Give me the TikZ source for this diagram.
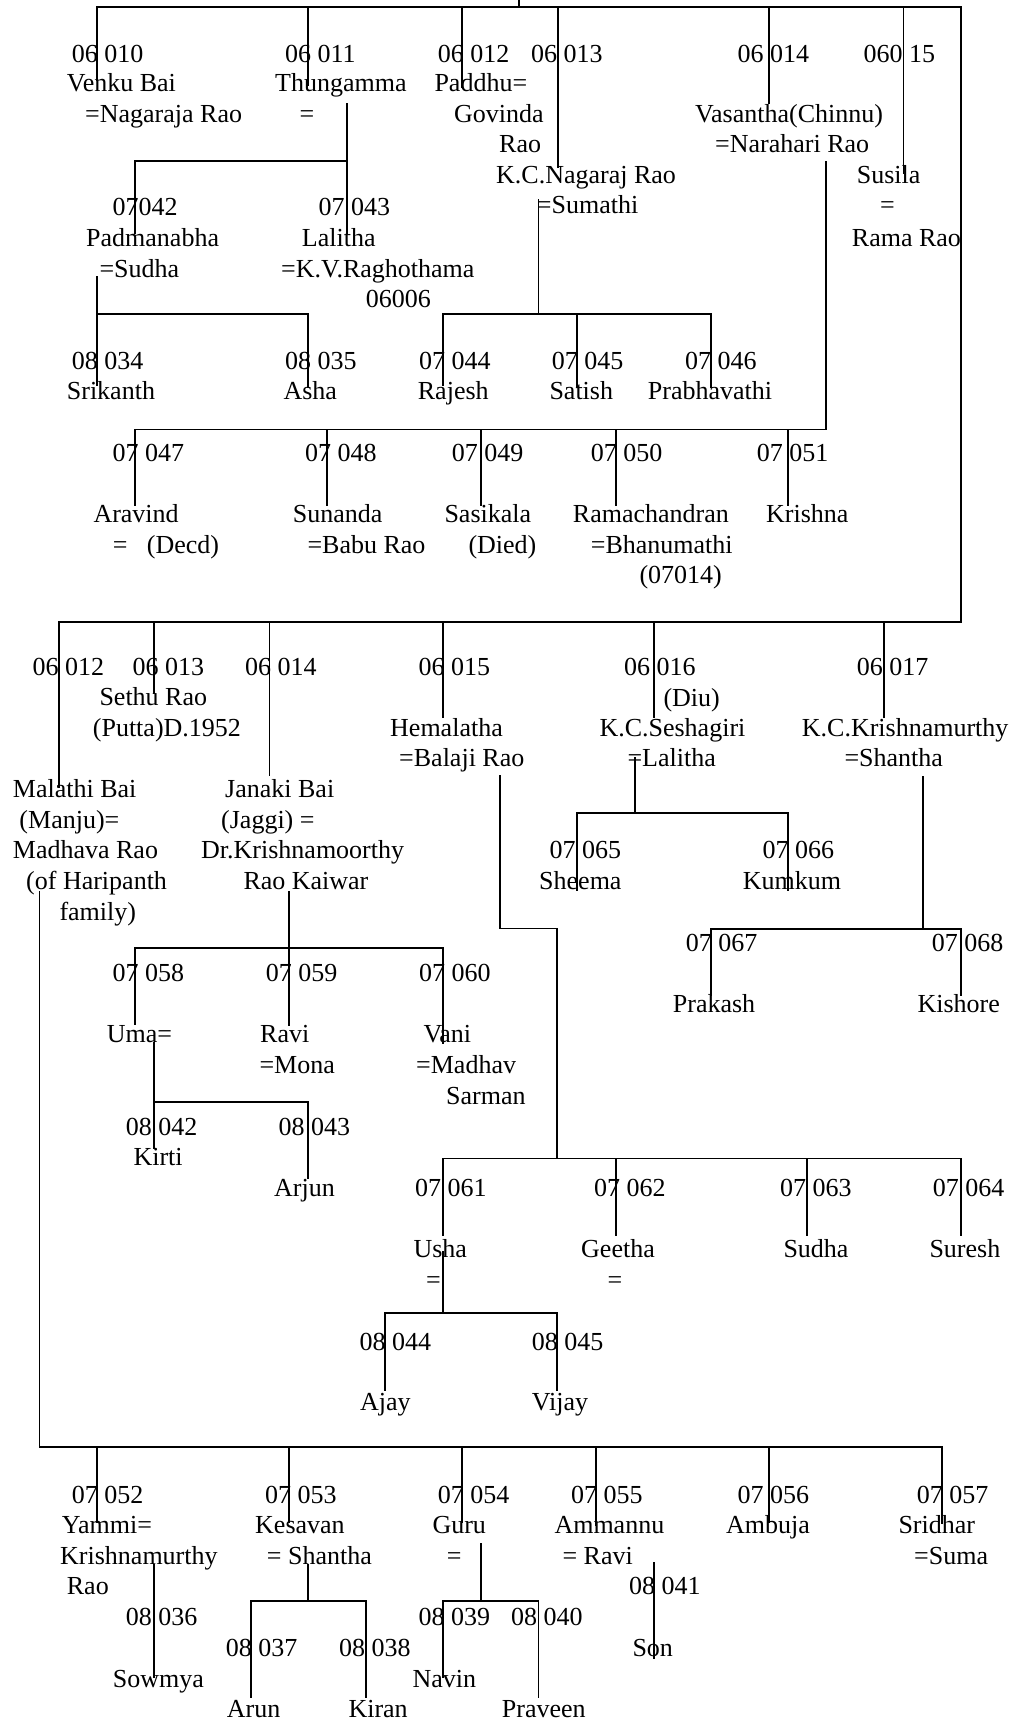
\documentclass[tikz,border=0pt]{standalone}
\usepackage{fontspec}
\setmainfont{Liberation Serif}
\tikzset{lbl/.style={anchor=base west, inner sep=0pt, font=\fontsize{26}{30}\selectfont},
  tline/.style={line width=1.6pt, line cap=rect}}
\newcommand\who[4]{\node[lbl] (#1) at (#2,#3) {#4};}
\newcommand\stem[3]{\draw[tline] (#1,#2) -- (#1,#3);}
\newcommand\rail[3]{\draw[tline] (#1,#3) -- (#2,#3);}

\begin{document}
\begin{tikzpicture}[x=1pt,y=-1pt]
\useasboundingbox (0,0) rectangle (1017,1723);

% top family
\stem{519}{0}{7}
\rail{97}{961}{7}
\stem{97}{7}{80}
\stem{308}{7}{85}
\stem{461.7}{7}{87}
\stem{557.7}{7}{167}
\stem{768.7}{7}{103}
\stem{903.3}{7}{173}
\stem{961}{7}{622}

\who{c06010}{71.7}{63}{06 010}
\who{c06011}{285}{63}{06 011}
\who{c06012}{437.7}{63}{06 012}
\who{c06013}{531}{63}{06 013}
\who{c06014}{737.3}{63}{06 014}
\who{c06015}{863.3}{63}{060 15}
\who{venku}{66.7}{92}{Venku Bai}
\who{thunga}{275}{92}{Thungamma}
\who{paddhu}{434.3}{92}{Paddhu=}
\who{venkuH}{85}{123}{=Nagaraja Rao}
\who{thungaH}{299.3}{123}{=}
\who{paddhuH}{454}{123}{Govinda}
\who{vasantha}{695}{123}{Vasantha(Chinnu)}
\who{paddhuR}{499}{153}{Rao}
\who{vasanthaH}{715}{153}{=Narahari Rao}
\who{nagaraj}{496}{184}{K.C.Nagaraj Rao}
\who{susila}{856.7}{184}{Susila}
\who{nagarajW}{536.7}{214}{=Sumathi}
\who{susilaE}{880}{214}{=}
\who{susilaH}{851.7}{246}{Rama Rao}

% Thungamma
\stem{346.7}{104}{233}
\rail{135}{346.7}{161.3}
\stem{135}{161.3}{233}
\who{c07042}{112.3}{215}{07042}
\who{c07043}{318.3}{215}{07 043}
\who{padma}{86}{246}{Padmanabha}
\who{lalitha}{301.7}{246}{Lalitha}
\who{padmaW}{99.3}{277}{=Sudha}
\who{lalithaH}{281}{277}{=K.V.Raghothama}
\who{lalithaC}{365.7}{307}{06006}

% Padmanabha
\stem{97}{277}{385}
\rail{97}{308}{314}
\stem{308}{314}{387}
\who{c08034}{71.7}{369}{08 034}
\who{c08035}{285}{369}{08 035}
\who{srikanth}{66.7}{399}{Srikanth}
\who{asha}{283.3}{399}{Asha}

% K.C.Nagaraj Rao
\stem{538.3}{200}{314}
\rail{442.7}{711}{314}
\stem{442.7}{314}{385}
\stem{577}{314}{387}
\stem{711}{314}{387}
\who{c07044}{419}{369}{07 044}
\who{c07045}{551.7}{369}{07 045}
\who{c07046}{685}{369}{07 046}
\who{rajesh}{417.7}{399}{Rajesh}
\who{satish}{549.3}{399}{Satish}
\who{prabha}{647.7}{399}{Prabhavathi}

% Vasantha
\stem{826}{162}{429.5}
\rail{135}{826}{429.5}
\stem{135}{429.5}{505}
\stem{326.7}{429.5}{505}
\stem{480.7}{429.5}{505}
\stem{615.7}{429.5}{505}
\stem{787.7}{429.5}{505}
\who{c07047}{112.3}{461}{07 047}
\who{c07048}{305}{461}{07 048}
\who{c07049}{451.7}{461}{07 049}
\who{c07050}{590.7}{461}{07 050}
\who{c07051}{756.7}{461}{07 051}
\who{aravind}{93.3}{522}{Aravind}
\who{sunanda}{292.7}{522}{Sunanda}
\who{sasikala}{444.3}{522}{Sasikala}
\who{rama}{572.7}{522}{Ramachandran}
\who{krishna}{766}{522}{Krishna}
\who{aravindW}{112.7}{553}{=\hspace{19.4pt}(Decd)}
\who{sunandaH}{307.3}{553}{=Babu Rao}
\who{sasikalaD}{468.3}{553}{(Died)}
\who{ramaW}{590.7}{553}{=Bhanumathi}
\who{ramaC}{639.3}{583}{(07014)}

% second family
\rail{58.7}{961}{621.7}
\stem{58.7}{621.7}{787}
\stem{154}{621.7}{693}
\stem{269.3}{621.7}{775}
\stem{442.7}{621.7}{717}
\stem{653.7}{621.7}{717}
\stem{884}{621.7}{717}
\who{c06012b}{32.3}{675}{06 012}
\who{c06013b}{132.3}{675}{06 013}
\who{c06014b}{245}{675}{06 014}
\who{c06015b}{418.3}{675}{06 015}
\who{c06016}{624}{675}{06 016}
\who{c06017}{856.7}{675}{06 017}
\who{sethu}{99.3}{705}{Sethu Rao}
\who{diu}{663.3}{706}{(Diu)}
\who{sethuD}{92.7}{736.5}{(Putta)D.1952}
\who{hema}{390}{736.5}{Hemalatha}
\who{sesha}{599.3}{736.5}{K.C.Seshagiri}
\who{kck}{801.7}{736.5}{K.C.Krishnamurthy}
\who{hemaH}{399}{766.5}{=Balaji Rao}
\who{seshaW}{627.3}{766.5}{=Lalitha}
\who{kckW}{844.3}{766.5}{=Shantha}
\who{malathi}{12.7}{797}{Malathi Bai}
\who{janaki}{225}{797}{Janaki Bai}
\who{malathiN}{19.3}{828}{(Manju)=}
\who{janakiN}{221}{828}{(Jaggi) =}
\who{malathiH}{12.7}{858}{Madhava Rao}
\who{janakiH}{201}{858}{Dr.Krishnamoorthy}
\who{malathiF}{26}{889}{(of Haripanth}
\who{janakiR}{243.3}{889}{Rao Kaiwar}
\who{malathiG}{59.3}{920}{family)}

% K.C.Seshagiri
\stem{635}{758}{813}
\rail{577}{787.7}{813}
\stem{577}{813}{890}
\stem{787.7}{813}{890}
\who{c07065}{549.3}{858}{07 065}
\who{c07066}{762.3}{858}{07 066}
\who{sheema}{539}{889}{Sheema}
\who{kumkum}{742.7}{889}{Kumkum}

% K.C.Krishnamurthy
\stem{922.7}{777}{929}
\rail{711}{961}{929}
\stem{711}{929}{995}
\stem{961}{929}{995}
\who{c07067}{685.7}{951}{07 067}
\who{c07068}{931.7}{951}{07 068}
\who{prakash}{672.7}{1012.7}{Prakash}
\who{kishore}{917.3}{1012.7}{Kishore}

% Janaki Bai
\stem{288.7}{892}{1025}
\rail{135}{442.7}{948}
\stem{135}{948}{1024}
\stem{442.7}{948}{1043}
\who{c07058}{112.3}{981.7}{07 058}
\who{c07059}{265.7}{981.7}{07 059}
\who{c07060}{419}{981.7}{07 060}
\who{uma}{106.7}{1042.7}{Uma=}
\who{ravi}{260}{1042.7}{Ravi}
\who{vani}{423.3}{1042.7}{Vani}
\who{raviW}{259.3}{1073.3}{=Mona}
\who{vaniH}{416}{1073.3}{=Madhav}
\who{vaniS}{446}{1104}{Sarman}

% Uma
\stem{154}{1043}{1148}
\rail{154}{308}{1102}
\stem{308}{1102}{1178}
\who{c08042}{125.7}{1135}{08 042}
\who{c08043}{278.3}{1135}{08 043}
\who{kirti}{133.3}{1165.7}{Kirti}
\who{arjun}{274}{1196}{Arjun}

% Hemalatha
\stem{500}{776}{928.5}
\rail{500}{557}{928.5}
\stem{557}{928.5}{1158.5}
\rail{442.7}{961}{1158.5}
\stem{442.7}{1158.5}{1235}
\stem{615.7}{1158.5}{1235}
\stem{806.7}{1158.5}{1235}
\stem{961}{1158.5}{1235}
\who{c07061}{415}{1196}{07 061}
\who{c07062}{594}{1196}{07 062}
\who{c07063}{780}{1196}{07 063}
\who{c07064}{932.7}{1196}{07 064}
\who{usha}{413.3}{1257.7}{Usha}
\who{geetha}{581}{1257.7}{Geetha}
\who{sudha}{783.3}{1257.7}{Sudha}
\who{suresh}{929.3}{1257.7}{Suresh}
\who{ushaH}{426}{1288}{=}
\who{geethaH}{607.3}{1288}{=}

% Usha
\stem{442.7}{1252}{1313}
\rail{385}{557}{1313}
\stem{385}{1313}{1390}
\stem{557}{1313}{1390}
\who{c08044}{359.3}{1350}{08 044}
\who{c08045}{531.7}{1350}{08 045}
\who{ajay}{360}{1410.7}{Ajay}
\who{vijay}{531.7}{1410.7}{Vijay}

% Malathi Bai
\stem{39.3}{892}{1447}
\rail{39.3}{941.7}{1447}
\stem{97}{1447}{1522}
\stem{288.7}{1447}{1522}
\stem{461.7}{1447}{1522}
\stem{596}{1447}{1525}
\stem{768.7}{1447}{1522}
\stem{941.7}{1447}{1523}
\who{c07052}{71.7}{1503.3}{07 052}
\who{c07053}{265}{1503.3}{07 053}
\who{c07054}{437.7}{1503.3}{07 054}
\who{c07055}{571}{1503.3}{07 055}
\who{c07056}{737.3}{1503.3}{07 056}
\who{c07057}{916.7}{1503.3}{07 057}
\who{yammi}{61.7}{1533.3}{Yammi=}
\who{kesavan}{255}{1533.3}{Kesavan}
\who{guru}{432.3}{1533.3}{Guru}
\who{ammannu}{554.3}{1533.3}{Ammannu}
\who{ambuja}{726}{1533.3}{Ambuja}
\who{sridhar}{898.3}{1533.3}{Sridhar}
\who{yammiH}{60}{1564.3}{Krishnamurthy}
\who{kesavanW}{266.7}{1564.3}{= Shantha}
\who{guruW}{446.7}{1564.3}{=}
\who{ammannuH}{562.3}{1564.3}{= Ravi}
\who{sridharW}{914}{1564.3}{=Suma}
\who{yammiR}{66.7}{1594.3}{Rao}

% grandchildren
\stem{154}{1565}{1677}
\stem{308}{1565}{1601}
\rail{250.7}{365.7}{1601}
\stem{250.7}{1601}{1697}
\stem{365.7}{1601}{1697}
\stem{480.7}{1544}{1601}
\rail{442.7}{538.3}{1601}
\stem{442.7}{1601}{1677}
\stem{538.3}{1601}{1697}
\stem{653.7}{1563}{1658}
\who{c08041}{629}{1594.3}{08 041}
\who{c08036}{125.7}{1625.7}{08 036}
\who{c08039}{418.3}{1625.7}{08 039}
\who{c08040}{511}{1625.7}{08 040}
\who{c08037}{225.7}{1656.7}{08 037}
\who{c08038}{339}{1656.7}{08 038}
\who{son}{632.3}{1656.7}{Son}
\who{sowmya}{112.7}{1687.7}{Sowmya}
\who{navin}{412.3}{1687.7}{Navin}
\who{arun}{226.7}{1717.7}{Arun}
\who{kiran}{348.3}{1717.7}{Kiran}
\who{praveen}{501.7}{1717.7}{Praveen}
\end{tikzpicture}
\end{document}
